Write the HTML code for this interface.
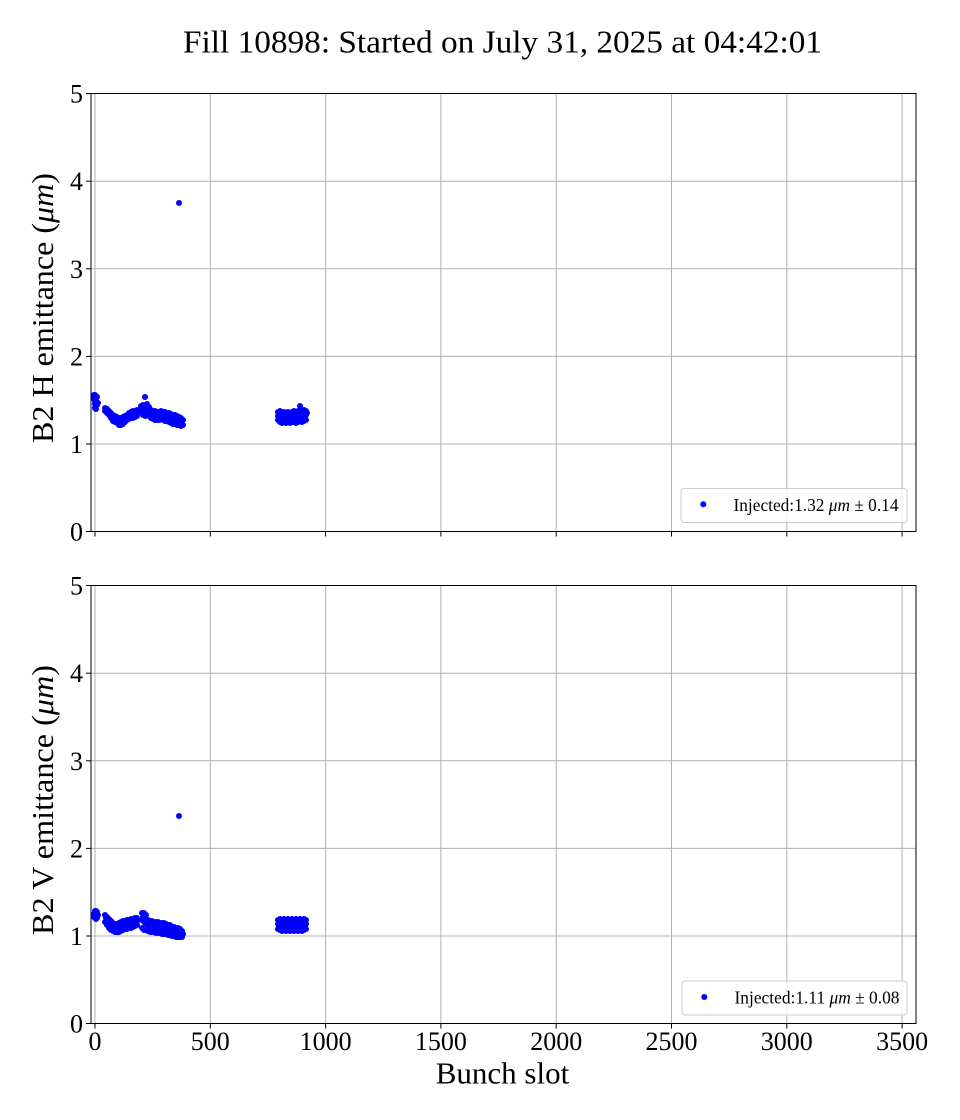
<!DOCTYPE html>
<html><head><meta charset="utf-8"><style>
html,body{margin:0;padding:0;background:#fff;}
svg{display:block;}
text{font-family:"Liberation Serif","DejaVu Serif",serif;fill:#000;}
</style></head><body>
<svg width="960" height="1120" viewBox="0 0 960 1120" xmlns="http://www.w3.org/2000/svg">
<rect width="960" height="1120" fill="#fff"/>
<text x="183" y="52.5" font-size="32" textLength="639" lengthAdjust="spacingAndGlyphs">Fill 10898: Started on July 31, 2025 at 04:42:01</text>

<!-- ===== TOP PLOT ===== -->
<g stroke="#b0b0b0" stroke-width="1">
<line x1="95" y1="93.5" x2="95" y2="531.5"/><line x1="210.3" y1="93.5" x2="210.3" y2="531.5"/><line x1="325.6" y1="93.5" x2="325.6" y2="531.5"/><line x1="440.9" y1="93.5" x2="440.9" y2="531.5"/><line x1="556.2" y1="93.5" x2="556.2" y2="531.5"/><line x1="671.5" y1="93.5" x2="671.5" y2="531.5"/><line x1="786.8" y1="93.5" x2="786.8" y2="531.5"/><line x1="902.1" y1="93.5" x2="902.1" y2="531.5"/>
<line x1="91" y1="444" x2="916" y2="444"/><line x1="91" y1="356.4" x2="916" y2="356.4"/><line x1="91" y1="268.8" x2="916" y2="268.8"/><line x1="91" y1="181.2" x2="916" y2="181.2"/>
</g>
<g stroke="#0000ff" stroke-width="6" stroke-linecap="round" fill="none">
<path d="M94 395h0M95 395h0M96 396h0M97 397h0M94 399h0M95 401h0M96 400h0M97 402h0M95 404h0M96 406h0M97 405h0M95 408h0M96 409h0M98 403h0M93.5 397h0
M105 408h0M105 411h0M106 410h0M107 409h0M107 413h0M107 411h0M108 412h0M109 411h0M109 415h0M109 413h0M110 414h0M111 413h0M111 418h0M111 415h0M112 417h0M113 415h0M113 421h0M113 418h0M114 419h0M115 416h0M115 422h0M115 419h0M116 421h0M117 417h0M117 423h0M117 420h0M118 422h0M119 418h0M119 425h0M119 421h0M120 423h0M121 418h0M121 425h0M121 422h0M122 421h0M123 417h0M123 424h0M123 420h0M124 422h0M125 416h0M125 422h0M125 419h0M126 418h0M127 415h0M127 420h0M127 417h0M128 418h0M129 413h0M129 419h0M129 416h0M130 415h0M131 412h0M131 418h0M131 415h0M132 414h0M133 411h0M133 418h0M133 414h0M134 416h0M135 411h0M135 417h0M135 414h0M136 413h0M137 410h0M137 416h0M137 413h0M138 412h0
M145 397h0M141 406h0M141 412h0M142 409h0M143 405h0M143 415h0M143 410h0M144 408h0M145 406h0M145 416h0M145 411h0M146 413h0M147 404h0M147 414h0M147 409h0M148 411h0M149 407h0M149 416h0M149 412h0M150 414h0M151 410h0M151 418h0M151 413h0M152 416h0M153 411h0M153 419h0M153 415h0M154 417h0M155 411h0M155 420h0M155 415h0M156 418h0M157 412h0M157 420h0M157 416h0M158 418h0M159 412h0M159 420h0M159 416h0M160 417h0M161 411h0M161 419h0M161 415h0M162 417h0M163 412h0M163 420h0M163 416h0M164 418h0M165 412h0M165 421h0M165 416h0M166 419h0M167 413h0M167 421h0M167 417h0M168 419h0M169 413h0M169 422h0M169 418h0M170 420h0M171 414h0M171 423h0M171 418h0M172 421h0M173 415h0M173 424h0M173 419h0M174 422h0M175 415h0M175 424h0M175 420h0M176 422h0M177 416h0M177 425h0M177 421h0M178 423h0M179 417h0M179 425h0M179 421h0M180 423h0M181 418h0M181 426h0M181 422h0M182 424h0M183 420h0M183 425h0
M278 412h0M278 420h0M278 416h0M279 418h0M280 411h0M280 422h0M280 416h0M281 419h0M282 413h0M282 423h0M282 418h0M283 415h0M284 412h0M284 422h0M284 417h0M285 420h0M286 413h0M286 423h0M286 418h0M287 415h0M288 412h0M288 422h0M288 417h0M289 420h0M290 413h0M290 423h0M290 418h0M291 415h0M292 412h0M292 422h0M292 417h0M293 419h0M294 411h0M294 422h0M294 416h0M295 414h0M296 412h0M296 423h0M296 418h0M297 420h0M298 411h0M298 422h0M298 416h0M299 414h0M300 406h0M300 412h0M300 421h0M300 417h0M301 419h0M302 411h0M302 422h0M302 416h0M303 414h0M304 410h0M304 421h0M304 415h0M305 418h0M306 411h0M306 420h0M306 415h0M307 413h0
M179 203h0"/>
</g>
<rect x="91" y="93.5" width="825" height="438" fill="none" stroke="#000" stroke-width="1"/>
<g stroke="#000" stroke-width="1">
<line x1="86" y1="531.5" x2="91" y2="531.5"/><line x1="86" y1="444" x2="91" y2="444"/><line x1="86" y1="356.4" x2="91" y2="356.4"/><line x1="86" y1="268.8" x2="91" y2="268.8"/><line x1="86" y1="181.2" x2="91" y2="181.2"/><line x1="86" y1="93.5" x2="91" y2="93.5"/>
<line x1="95" y1="531.5" x2="95" y2="536.5"/><line x1="210.3" y1="531.5" x2="210.3" y2="536.5"/><line x1="325.6" y1="531.5" x2="325.6" y2="536.5"/><line x1="440.9" y1="531.5" x2="440.9" y2="536.5"/><line x1="556.2" y1="531.5" x2="556.2" y2="536.5"/><line x1="671.5" y1="531.5" x2="671.5" y2="536.5"/><line x1="786.8" y1="531.5" x2="786.8" y2="536.5"/><line x1="902.1" y1="531.5" x2="902.1" y2="536.5"/>
</g>
<g font-size="26" text-anchor="end">
<text x="83" y="540.5">0</text><text x="83" y="453">1</text><text x="83" y="365.4">2</text><text x="83" y="277.8">3</text><text x="83" y="190.2">4</text><text x="83" y="102.5">5</text>
</g>
<text transform="translate(53,308) rotate(-90)" font-size="31" text-anchor="middle" textLength="270" lengthAdjust="spacingAndGlyphs">B2 H emittance (<tspan font-style="italic">μm</tspan>)</text>
<rect x="681" y="488.5" width="226" height="34" rx="3" fill="#fff" fill-opacity="0.8" stroke="#cccccc" stroke-width="1"/>
<circle cx="703.3" cy="504.3" r="3" fill="#0000ff"/>
<text x="733.5" y="511" font-size="17.5" textLength="165" lengthAdjust="spacingAndGlyphs">Injected:1.32 <tspan font-style="italic">μm</tspan> ± 0.14</text>

<!-- ===== BOTTOM PLOT ===== -->
<g stroke="#b0b0b0" stroke-width="1">
<line x1="95" y1="585.5" x2="95" y2="1023.5"/><line x1="210.3" y1="585.5" x2="210.3" y2="1023.5"/><line x1="325.6" y1="585.5" x2="325.6" y2="1023.5"/><line x1="440.9" y1="585.5" x2="440.9" y2="1023.5"/><line x1="556.2" y1="585.5" x2="556.2" y2="1023.5"/><line x1="671.5" y1="585.5" x2="671.5" y2="1023.5"/><line x1="786.8" y1="585.5" x2="786.8" y2="1023.5"/><line x1="902.1" y1="585.5" x2="902.1" y2="1023.5"/>
<line x1="91" y1="936" x2="916" y2="936"/><line x1="91" y1="848.4" x2="916" y2="848.4"/><line x1="91" y1="760.8" x2="916" y2="760.8"/><line x1="91" y1="673.2" x2="916" y2="673.2"/>
</g>
<g stroke="#0000ff" stroke-width="6" stroke-linecap="round" fill="none">
<path d="M95 911h0M96 911h0M97 912h0M94 914h0M95 915h0M96 914h0M97 916h0M98 915h0M95 918h0M96 919h0M97 918h0M94 917h0
M105 915h0M105 922h0M106 918h0M107 917h0M107 925h0M107 921h0M108 920h0M109 919h0M109 928h0M109 923h0M110 925h0M111 921h0M111 930h0M111 926h0M112 928h0M113 923h0M113 931h0M113 927h0M114 929h0M115 924h0M115 932h0M115 928h0M116 930h0M117 924h0M117 932h0M117 928h0M118 930h0M119 923h0M119 932h0M119 927h0M120 929h0M121 922h0M121 931h0M121 926h0M122 928h0M123 921h0M123 930h0M123 926h0M124 927h0M125 921h0M125 929h0M125 925h0M126 927h0M127 920h0M127 929h0M127 924h0M128 926h0M129 920h0M129 928h0M129 924h0M130 926h0M131 919h0M131 928h0M131 923h0M132 925h0M133 919h0M133 927h0M133 923h0M134 925h0M135 918h0M135 926h0M135 922h0M136 924h0M137 918h0M137 925h0M137 921h0M138 920h0
M142 913h0M142 928h0M142 920h0M143 916h0M144 913h0M144 930h0M144 922h0M145 918h0M146 915h0M146 930h0M146 924h0M147 920h0M148 920h0M148 931h0M148 925h0M149 923h0M150 921h0M150 932h0M150 926h0M151 924h0M152 921h0M152 932h0M152 927h0M153 924h0M154 922h0M154 932h0M154 927h0M155 925h0M156 922h0M156 933h0M156 928h0M157 925h0M158 922h0M158 933h0M158 928h0M159 926h0M160 923h0M160 933h0M160 928h0M161 926h0M162 923h0M162 934h0M162 929h0M163 926h0M164 923h0M164 934h0M164 929h0M165 927h0M166 924h0M166 934h0M166 929h0M167 927h0M168 925h0M168 935h0M168 930h0M169 928h0M170 925h0M170 935h0M170 930h0M171 928h0M172 927h0M172 936h0M172 931h0M173 930h0M174 927h0M174 936h0M174 932h0M175 930h0M176 928h0M176 937h0M176 933h0M177 931h0M178 928h0M178 937h0M178 933h0M179 931h0M180 929h0M180 937h0M180 934h0M181 932h0M182 931h0M182 937h0M183 934h0
M278 920h0M278 929h0M278 924h0M279 926h0M280 919h0M280 930h0M280 925h0M281 922h0M282 920h0M282 931h0M282 926h0M283 923h0M284 919h0M284 930h0M284 925h0M285 928h0M286 920h0M286 931h0M286 926h0M287 923h0M288 919h0M288 930h0M288 924h0M289 927h0M290 920h0M290 931h0M290 926h0M291 922h0M292 919h0M292 930h0M292 925h0M293 928h0M294 920h0M294 931h0M294 926h0M295 923h0M296 919h0M296 930h0M296 925h0M297 927h0M298 920h0M298 931h0M298 926h0M299 922h0M300 919h0M300 930h0M300 925h0M301 928h0M302 920h0M302 931h0M302 926h0M303 923h0M304 919h0M304 930h0M304 925h0M305 927h0M306 920h0M306 929h0M306 924h0
M179 816h0"/>
</g>
<rect x="91" y="585.5" width="825" height="438" fill="none" stroke="#000" stroke-width="1"/>
<g stroke="#000" stroke-width="1">
<line x1="86" y1="1023.5" x2="91" y2="1023.5"/><line x1="86" y1="936" x2="91" y2="936"/><line x1="86" y1="848.4" x2="91" y2="848.4"/><line x1="86" y1="760.8" x2="91" y2="760.8"/><line x1="86" y1="673.2" x2="91" y2="673.2"/><line x1="86" y1="585.5" x2="91" y2="585.5"/>
<line x1="95" y1="1023.5" x2="95" y2="1028.5"/><line x1="210.3" y1="1023.5" x2="210.3" y2="1028.5"/><line x1="325.6" y1="1023.5" x2="325.6" y2="1028.5"/><line x1="440.9" y1="1023.5" x2="440.9" y2="1028.5"/><line x1="556.2" y1="1023.5" x2="556.2" y2="1028.5"/><line x1="671.5" y1="1023.5" x2="671.5" y2="1028.5"/><line x1="786.8" y1="1023.5" x2="786.8" y2="1028.5"/><line x1="902.1" y1="1023.5" x2="902.1" y2="1028.5"/>
</g>
<g font-size="26" text-anchor="end">
<text x="83" y="1032.5">0</text><text x="83" y="945">1</text><text x="83" y="857.4">2</text><text x="83" y="769.8">3</text><text x="83" y="682.2">4</text><text x="83" y="594.5">5</text>
</g>
<g font-size="26" text-anchor="middle">
<text x="95" y="1050">0</text><text x="210.3" y="1050">500</text><text x="325.6" y="1050">1000</text><text x="440.9" y="1050">1500</text><text x="556.2" y="1050">2000</text><text x="671.5" y="1050">2500</text><text x="786.8" y="1050">3000</text><text x="902.1" y="1050">3500</text>
</g>
<text x="502.5" y="1083.3" font-size="31" text-anchor="middle">Bunch slot</text>
<text transform="translate(53,800) rotate(-90)" font-size="31" text-anchor="middle" textLength="270" lengthAdjust="spacingAndGlyphs">B2 V emittance (<tspan font-style="italic">μm</tspan>)</text>
<rect x="682" y="981" width="225" height="34" rx="3" fill="#fff" fill-opacity="0.8" stroke="#cccccc" stroke-width="1"/>
<circle cx="704.3" cy="997" r="3" fill="#0000ff"/>
<text x="734.5" y="1003.7" font-size="17.5" textLength="165" lengthAdjust="spacingAndGlyphs">Injected:1.11 <tspan font-style="italic">μm</tspan> ± 0.08</text>
</svg>
</body></html>
